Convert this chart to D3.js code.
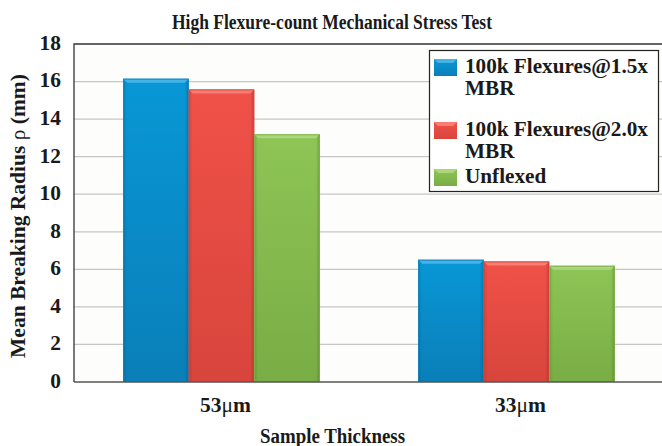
<!DOCTYPE html>
<html>
<head>
<meta charset="utf-8">
<script src="https://cdn.jsdelivr.net/npm/d3@7"></script>
<style>
  body { margin: 0; background: #fff; }
  svg text { font-family: "Liberation Serif", "Times New Roman", "DejaVu Serif", serif !important; font-weight: bold; fill: #1a1a1a; }
</style>
</head>
<body>
<div id="chart"></div>
<script>
// Data
const categories = ['53\u03BCm', '33\u03BCm'];
const seriesNames = ['100k Flexures@1.5x MBR', '100k Flexures@2.0x MBR', 'Unflexed'];
const flexed15 = [16.15, 6.51];
const flexed20 = [15.58, 6.42];
const unflexed = [13.19, 6.19];
const yTicks = [0, 2, 4, 6, 8, 10, 12, 14, 16, 18];

const width = 662, height = 446;
const margin = {top: 44, right: -2, bottom: 64, left: 74};
const serif = '"Liberation Serif", "Times New Roman", serif';

// Colours: base, light top, dark bottom
const palette = [
    {base: '#0897d6', light: '#44b4e8', dark: '#0a7fb8'},
    {base: '#f05148', light: '#f77c72', dark: '#d8453c'},
    {base: '#8ec556', light: '#abd77a', dark: '#79ad45'}
];

const svg = d3.select('#chart')
    .append('svg')
    .attr('width', width)
    .attr('height', height)
    .attr('font-family', serif);

const defs = svg.append('defs');
palette.forEach((c, i) => {
    let g = defs.append('linearGradient')
        .attr('id', 'grad' + i)
        .attr('x1', 0).attr('y1', 0).attr('x2', 0).attr('y2', 1);
    g.append('stop').attr('offset', '0%').attr('stop-color', c.base);
    g.append('stop').attr('offset', '100%').attr('stop-color', c.dark);
    let s = defs.append('linearGradient')
        .attr('id', 'side' + i)
        .attr('x1', 0).attr('y1', 0).attr('x2', 1).attr('y2', 0);
    s.append('stop').attr('offset', '0%').attr('stop-color', '#000').attr('stop-opacity', 0.12);
    s.append('stop').attr('offset', '6%').attr('stop-color', '#000').attr('stop-opacity', 0);
    s.append('stop').attr('offset', '94%').attr('stop-color', '#000').attr('stop-opacity', 0);
    s.append('stop').attr('offset', '100%').attr('stop-color', '#000').attr('stop-opacity', 0.18);
});

const plotW = width - margin.left - margin.right;
const plotH = height - margin.top - margin.bottom;

const x0 = d3.scaleBand()
    .domain(categories)
    .range([margin.left, margin.left + plotW])
    .paddingInner(0)
    .paddingOuter(0);

const x1 = d3.scaleBand()
    .domain(d3.range(seriesNames.length))
    .range([0, x0.bandwidth()])
    .paddingOuter(0.75)
    .paddingInner(0);

const y = d3.scaleLinear()
    .domain([0, 18])
    .range([margin.top + plotH, margin.top]);

// Plot background
svg.append('rect')
    .attr('x', margin.left)
    .attr('y', margin.top)
    .attr('width', plotW)
    .attr('height', plotH)
    .attr('fill', '#fdfdfb');

// Gridlines
svg.append('g')
    .selectAll('line')
    .data(yTicks.filter(t => t > 0 && t < 18))
    .join('line')
    .attr('x1', margin.left)
    .attr('x2', margin.left + plotW)
    .attr('y1', d => y(d))
    .attr('y2', d => y(d))
    .attr('stroke', '#c6c6c6')
    .attr('stroke-width', 1.3);

// Plot border (top and left)
svg.append('path')
    .attr('d', `M${margin.left},${margin.top + plotH}V${margin.top}H${margin.left + plotW}`)
    .attr('fill', 'none')
    .attr('stroke', '#333')
    .attr('stroke-width', 1.3);

// Y axis
const yAxis = svg.append('g')
    .attr('transform', `translate(${margin.left},0)`)
    .call(d3.axisLeft(y).tickValues(yTicks).tickSize(0).tickPadding(13));
yAxis.attr('font-family', serif);
yAxis.select('.domain').remove();
yAxis.selectAll('text')
    .attr('dy', '0.25em')
    .style('font-size', '21.4px')
    .style('font-family', serif)
    .attr('fill', '#1a1a1a');

// Bars
const seriesValues = [flexed15, flexed20, unflexed];
const groups = svg.append('g')
    .selectAll('g')
    .data(categories)
    .join('g')
    .attr('transform', d => `translate(${x0(d)},0)`);

groups.each(function(cat, ci) {
    let g = d3.select(this);
    seriesValues.forEach((vals, si) => {
        const bx = x1(si), bw = x1.bandwidth();
        const by = y(vals[ci]), bh = y(0) - y(vals[ci]);
        g.append('rect')
            .attr('x', bx).attr('y', by)
            .attr('width', bw).attr('height', bh)
            .attr('fill', `url(#grad${si})`);
        g.append('rect')
            .attr('x', bx).attr('y', by)
            .attr('width', bw).attr('height', bh)
            .attr('fill', `url(#side${si})`);
        // bevel highlight on top
        g.append('path')
            .attr('d', `M${bx},${by}H${bx + bw}L${bx + bw - 4},${by + 4}H${bx + 4}Z`)
            .attr('fill', palette[si].light);
        g.append('rect')
            .attr('x', bx + 0.5).attr('y', by + 0.5)
            .attr('width', bw - 1).attr('height', bh - 1)
            .attr('fill', 'none')
            .attr('stroke', palette[si].dark)
            .attr('stroke-opacity', 0.8)
            .attr('stroke-width', 1);
    });
});

// X axis line
svg.append('line')
    .attr('x1', margin.left)
    .attr('x2', margin.left + plotW)
    .attr('y1', y(0))
    .attr('y2', y(0))
    .attr('stroke', '#555')
    .attr('stroke-width', 1.5);

// X tick labels (the mu is set in regular weight, as in the original)
svg.append('g')
    .selectAll('text')
    .data(categories)
    .join('text')
    .attr('x', d => x0(d) + x0.bandwidth() / 2 + 4)
    .attr('y', 411.5)
    .attr('text-anchor', 'middle')
    .style('font-size', '21.5px')
    .style('font-family', serif)
    .each(function(d) {
        const t = d3.select(this);
        const parts = d.split('\u03BC');
        t.append('tspan').text(parts[0]);
        t.append('tspan').style('font-weight', 'normal').text('\u03BC');
        t.append('tspan').text(parts[1]);
    });

// Title
svg.append('text')
    .attr('x', 332)
    .attr('y', 29.3)
    .attr('text-anchor', 'middle')
    .attr('textLength', 320)
    .attr('lengthAdjust', 'spacingAndGlyphs')
    .style('font-size', '20px')
    .style('font-family', serif)
    .text('High Flexure-count Mechanical Stress Test');

// X axis title
svg.append('text')
    .attr('x', 332.5)
    .attr('y', 443)
    .attr('text-anchor', 'middle')
    .attr('textLength', 145)
    .attr('lengthAdjust', 'spacingAndGlyphs')
    .style('font-size', '20px')
    .style('font-family', serif)
    .text('Sample Thickness');

// Y axis title
svg.append('text')
    .attr('transform', 'translate(24.5,216) rotate(-90)')
    .attr('text-anchor', 'middle')
    .style('font-size', '21.5px')
    .style('font-family', serif)
    .each(function() {
        const t = d3.select(this);
        t.append('tspan').text('Mean Breaking Radius ');
        t.append('tspan').style('font-weight', 'normal').text('\u03C1');
        t.append('tspan').text(' (mm)');
    });

// Legend
const legend = svg.append('g');
legend.append('rect')
    .attr('x', 429.5)
    .attr('y', 50.5)
    .attr('width', 229)
    .attr('height', 141)
    .attr('fill', '#fff')
    .attr('stroke', '#222')
    .attr('stroke-width', 1.2);

const legendLines = [
    ['100k Flexures@1.5x', 'MBR'],
    ['100k Flexures@2.0x', 'MBR'],
    ['Unflexed']
];
const legendBase = [73, 136, 183];
legendLines.forEach((lines, i) => {
    legend.append('rect')
        .attr('x', 434)
        .attr('y', legendBase[i] - 14)
        .attr('width', 23)
        .attr('height', 17)
        .attr('fill', `url(#grad${i})`);
    legend.append('path')
        .attr('d', `M434,${legendBase[i] - 14}h23l-4,4h-15z`)
        .attr('fill', palette[i].light);
    let t = legend.append('text')
        .attr('x', 465)
        .attr('y', legendBase[i])
        .style('font-size', '21.2px')
        .style('font-family', serif);
    lines.forEach((ln, k) => {
        t.append('tspan')
            .attr('x', 465)
            .attr('dy', k === 0 ? 0 : 22)
            .text(ln);
    });
});
</script>
</body>
</html>
